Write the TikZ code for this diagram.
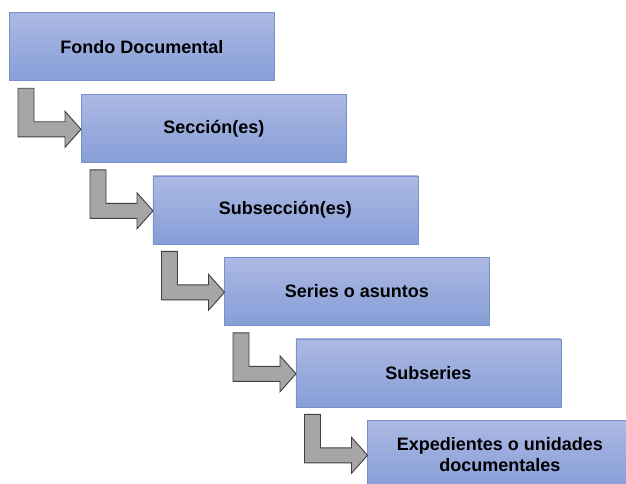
\documentclass[tikz,border=0pt]{standalone}
\usepackage{fontspec}
\setmainfont{Liberation Sans}
\definecolor{boxtop}{RGB}{172,185,227}
\definecolor{boxbot}{RGB}{134,158,215}
\definecolor{boxline}{RGB}{118,145,206}
\definecolor{arrfill}{RGB}{166,166,166}
\definecolor{arrline}{RGB}{64,64,64}
\tikzset{
  levelbox/.style={rectangle, draw=boxline, line width=0.8pt, top color=boxtop, bottom color=boxbot,
    minimum width=265pt, minimum height=68pt, inner sep=0pt, anchor=north west,
    font=\fontsize{18}{21}\selectfont\bfseries, align=center, text=black},
  bentarrow/.style={fill=arrfill, draw=arrline, line width=0.9pt, line join=miter}
}
\begin{document}
\begin{tikzpicture}[x=1pt,y=-1pt]
\useasboundingbox (0,0) rectangle (626,484);
\clip (0,0) rectangle (626,484);
\fill[white] (0,0) rectangle (626,484);
\node[levelbox] (b1) at (9,12.5) {Fondo Documental};
\node[levelbox] (b2) at (81,94) {Sección(es)};
\node[levelbox] (b3) at (152.5,175.5) {Subsección(es)};
\node[levelbox] (b4) at (224,257) {Series o asuntos};
\node[levelbox] (b5) at (295.5,338.5) {Subseries};
\node[levelbox] (b6) at (367,420) {Expedientes o unidades\\documentales};
\foreach \a/\b in {b1/b2,b2/b3,b3/b4,b4/b5,b5/b6}{
  \draw[bentarrow, shift={(\a.south west)}]
    (9,7) -- (25,7) -- (25,40.5) -- (56,40.5) -- (56,30) -- (72,48) -- (56,66) -- (56,55.5) -- (9,55.5) -- cycle;
}
\end{tikzpicture}
\end{document}
